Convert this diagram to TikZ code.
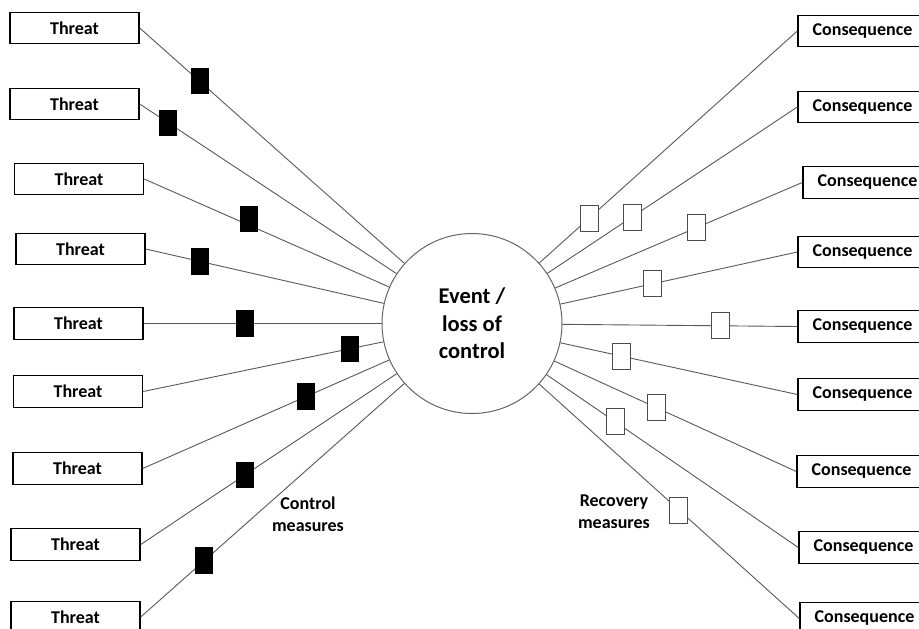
\documentclass[tikz,border=0pt]{standalone}
\usepackage{fontspec}
\setmainfont{Carlito}
\begin{document}
\begin{tikzpicture}[x=1pt,y=-1pt,
  txtbox/.style={draw=black,line width=1.4pt,minimum width=129pt,minimum height=31.5pt,inner sep=0pt,
    font=\fontsize{18}{22}\selectfont\bfseries},
  event/.style={circle,draw=black!60,line width=1pt,minimum size=180pt,inner sep=0pt,align=center,
    font=\fontsize{22.5}{27.5}\selectfont\bfseries},
  link/.style={draw=black!65,line width=0.9pt},
  ctrlbox/.style={fill=black,draw=none,minimum width=18pt,minimum height=26.5pt,inner sep=0pt},
  recbox/.style={fill=white,draw=black!70,line width=0.9pt,minimum width=18pt,minimum height=26pt,inner sep=0pt},
  lbl/.style={align=center,font=\fontsize{18}{22}\selectfont\bfseries}]
\useasboundingbox (0,0) rectangle (919,629);
\fill[white] (0,0) rectangle (919,629);

\node[event] (ev) at (472,323.5) {Event /\\loss of\\control};

\node[txtbox] (t1) at (74.5,28) {Threat};
\node[txtbox] (t2) at (74.5,104) {Threat};
\node[txtbox] (t3) at (79,179) {Threat};
\node[txtbox] (t4) at (80.5,249) {Threat};
\node[txtbox] (t5) at (78.5,323.5) {Threat};
\node[txtbox] (t6) at (78,391.5) {Threat};
\node[txtbox] (t7) at (77.5,468.5) {Threat};
\node[txtbox] (t8) at (75.5,544.5) {Threat};
\node[txtbox] (t9) at (75.5,617) {Threat};

\node[txtbox] (c1) at (862.5,31) {Consequence};
\node[txtbox] (c2) at (862.5,107) {Consequence};
\node[txtbox] (c3) at (867.5,182.5) {Consequence};
\node[txtbox] (c4) at (862.5,252) {Consequence};
\node[txtbox] (c5) at (862.5,326.5) {Consequence};
\node[txtbox] (c6) at (862.5,394.5) {Consequence};
\node[txtbox] (c7) at (861.5,471.5) {Consequence};
\node[txtbox] (c8) at (863.5,547.5) {Consequence};
\node[txtbox] (c9) at (864.5,618.5) {Consequence};

\path[link] (t1.east) -- (ev) node[ctrlbox,pos=0.226] (k1) {};
\path[link] (t2.east) -- (ev) node[ctrlbox,pos=0.112] (k2) {};
\path[link] (t3.east) -- (ev) node[ctrlbox,pos=0.427,yshift=6pt] (k3) {};
\path[link] (t4.east) -- (ev) node[ctrlbox,pos=0.226] (k4) {};
\path[link] (t5.east) -- (ev) node[ctrlbox,pos=0.427] (k5) {};
\path[link] (t6.east) -- (ev) node[ctrlbox,pos=0.86] (k6) {};
\path[link] (t7.east) -- (ev) node[ctrlbox,pos=0.662] (k7) {};
\path[link] (t8.east) -- (ev) node[ctrlbox,pos=0.408] (k8) {};
\path[link] (t9.east) -- (ev) node[ctrlbox,pos=0.242] (k9) {};

\path[link] (ev) -- (c1.west) node[recbox,pos=0.193] (r1) {};
\path[link] (ev) -- (c2.west) node[recbox,pos=0.339] (r2) {};
\path[link] (ev) -- (c3.west) node[recbox,pos=0.573] (r3) {};
\path[link] (ev) -- (c4.west) node[recbox,pos=0.387] (r4) {};
\path[link] (ev) -- (c5.west) node[recbox,pos=0.674] (r5) {};
\path[link] (ev) -- (c6.west) node[recbox,pos=0.257] (r6) {};
\path[link] (ev) -- (c7.west) node[recbox,pos=0.42] (r7) {};
\path[link] (ev) -- (c8.west) node[recbox,pos=0.272] (r8) {};
\path[link] (ev) -- (c9.west) node[recbox,pos=0.537] (r9) {};

\node[lbl] (cm) at (308,514) {Control\\measures};
\node[lbl] (rm) at (614,512) {Recovery\\measures};
\end{tikzpicture}
\end{document}
